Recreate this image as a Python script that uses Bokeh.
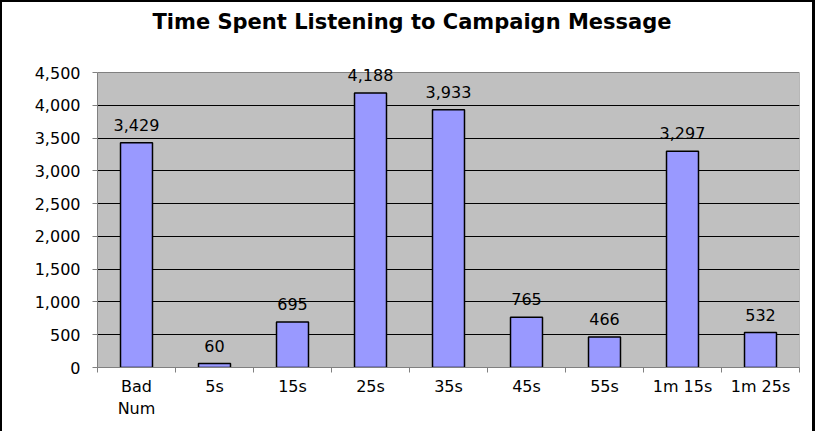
from bokeh.plotting import figure
from bokeh.models import FixedTicker, NumeralTickFormatter, Range1d, ColumnDataSource, Label, Title
from bokeh.embed import file_html
from bokeh.resources import INLINE

chart_title = "Time Spent Listening to Campaign Message"
categories = ["Bad\nNum", "5s", "15s", "25s", "35s", "45s", "55s", "1m 15s", "1m 25s"]
counts = [3429, 60, 695, 4188, 3933, 765, 466, 3297, 532]
y_ticks = [0, 500, 1000, 1500, 2000, 2500, 3000, 3500, 4000, 4500]

FONT = "DejaVu Sans"

xs = [i + 0.5 for i in range(len(categories))]
labels = [f"{c:,}" for c in counts]
src = ColumnDataSource(dict(x=xs, top=counts, label=labels))

# plot area is 295 px tall for 0..4500; frame is extended 20 px above it so
# that value labels near the top are not clipped
PLOT_H, EXTRA = 295, 20
y_max = y_ticks[-1]
y_end = y_max * (PLOT_H + EXTRA) / PLOT_H

p = figure(width=815, height=431, title=None,
           x_range=Range1d(0, len(categories)), y_range=Range1d(y_ticks[0], y_end),
           output_backend="svg", toolbar_location=None,
           min_border_left=97, min_border_right=16, min_border_top=72 - EXTRA, min_border_bottom=64)

p.styles = {"box-shadow": "inset 2px 2px 0 0 #000000, inset -3px 0 0 0 #000000"}
p.border_fill_alpha = 0
p.background_fill_color = None
p.outline_line_color = None

# gray plot area (0 .. 4500)
p.quad(left=0, right=len(categories), bottom=y_ticks[0], top=y_max,
       fill_color="#C0C0C0", line_color="#808080", line_width=1, level="image")

# spacer between frame and title, then the title itself (outermost)
p.add_layout(Title(text=" ", text_font_size="1px", standoff=16), "above")
p.add_layout(Title(text=chart_title, align="left", offset=55, standoff=0,
                   text_font=FONT, text_font_style="bold", text_font_size="21px",
                   text_color="#000000"), "above")

p.vbar(x="x", top="top", bottom=0, width=0.41, source=src,
       fill_color="#9999FF", line_color="#000000", line_width=1.5)

for x, top, lab in zip(xs, counts, labels):
    p.add_layout(Label(x=x, y=top, text=lab, text_align="center", text_baseline="middle",
                       y_offset=18, text_font=FONT, text_font_size="16px",
                       text_color="#000000"))

# x axis: labels at category centres, ticks at boundaries
xa = p.xaxis[0]
xa.ticker = FixedTicker(ticks=xs, minor_ticks=list(range(len(categories) + 1)))
xa.major_label_overrides = {x: c for x, c in zip(xs, categories)}
xa.major_tick_out = 0
xa.major_tick_in = 0
xa.minor_tick_out = 5
xa.minor_tick_in = 0
xa.major_label_standoff = 4
xa.major_label_text_font = FONT
xa.major_label_text_font_size = "16px"
xa.major_label_text_color = "#000000"
xa.major_label_text_line_height = 1.2
xa.axis_line_color = "#808080"
xa.minor_tick_line_color = "#808080"

ya = p.yaxis[0]
ya.ticker = FixedTicker(ticks=y_ticks)
ya.bounds = (y_ticks[0], y_max)
ya.formatter = NumeralTickFormatter(format="0,0")
ya.major_tick_out = 5
ya.major_tick_in = 0
ya.minor_tick_line_color = None
ya.major_label_standoff = 12
ya.major_label_text_font = FONT
ya.major_label_text_font_size = "16px"
ya.major_label_text_color = "#000000"
ya.axis_line_color = "#808080"
ya.major_tick_line_color = "#808080"

p.xgrid.visible = False
p.ygrid.ticker = FixedTicker(ticks=y_ticks[1:-1])
p.ygrid.grid_line_color = "#000000"
p.ygrid.grid_line_width = 1

open("out.html", "w").write(file_html(p, INLINE))
